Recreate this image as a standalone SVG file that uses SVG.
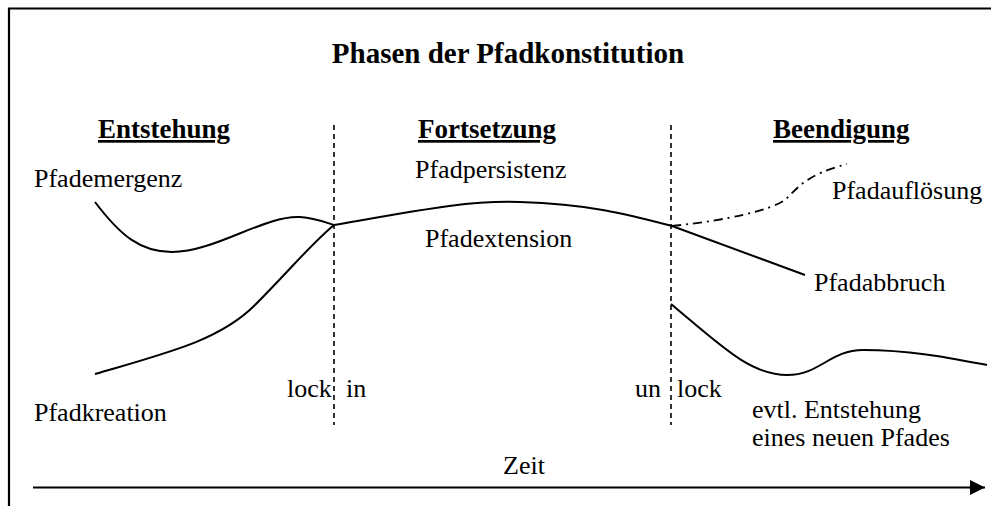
<svg xmlns="http://www.w3.org/2000/svg" width="991" height="506" viewBox="0 0 991 506">
<style>
text{font-family:"Liberation Serif","Times New Roman",serif;fill:#000}
.t{font-size:26px}
.h{font-size:27px;font-weight:bold;text-decoration:underline}
.ttl{font-size:29px;font-weight:bold}
.c{fill:none;stroke:#000;stroke-width:2}
.d{fill:none;stroke:#000;stroke-width:1.6;stroke-dasharray:5,4}
</style>
<defs>
<marker id="arr" markerWidth="16" markerHeight="16" refX="15" refY="7.5" orient="auto" markerUnits="userSpaceOnUse">
<path d="M0,0 L15,7.5 L0,15 Z" fill="#000"/>
</marker>
</defs>
<g id="frame"><path d="M9,506 V8.5 H991" fill="none" stroke="#000" stroke-width="2.2"/></g>
<g id="title"><text class="ttl" x="508" y="63" text-anchor="middle">Phasen der Pfadkonstitution</text></g>
<g id="headers">
<text class="h" x="98" y="138">Entstehung</text>
<text class="h" x="418" y="138">Fortsetzung</text>
<text class="h" x="773" y="138">Beendigung</text>
</g>
<g id="connectors">
<line class="d" x1="334" y1="125" x2="334" y2="425"/>
<line class="d" x1="671" y1="125" x2="671" y2="425"/>
<path class="c" d="M95,202 C120,235 140,252 172,252 C215,252 265,215 300,217 C315,218 325,222 334,225"/>
<path class="c" d="M95,374 C170,352 220,340 255,305 C290,270 310,245 334,225"/>
<path class="c" d="M334,225 C420,210 470,200 520,202 C590,204 630,215 672,226"/>
<path class="c" d="M672,226 L805,275"/>
<path fill="none" stroke="#000" stroke-width="1.8" stroke-dasharray="9,5,2,5" d="M672,226 C730,220 770,210 785,200 C798,188 805,175 847,164"/>
<path class="c" d="M671,304 C720,345 750,375 787,375 C820,375 830,350 863,350 C910,350 950,358 987,365"/>
<line x1="33" y1="487.5" x2="985" y2="487.5" stroke="#000" stroke-width="2.2" marker-end="url(#arr)"/>
</g>
<g id="labels">
<text class="t" x="34" y="187">Pfademergenz</text>
<text class="t" x="415" y="178">Pfadpersistenz</text>
<text class="t" x="832" y="199">Pfadauflösung</text>
<text class="t" x="425" y="247">Pfadextension</text>
<text class="t" x="814" y="291">Pfadabbruch</text>
<text class="t" x="287" y="397">lock</text>
<text class="t" x="346" y="397">in</text>
<text class="t" x="635" y="397">un</text>
<text class="t" x="677" y="397">lock</text>
<text class="t" x="34" y="421">Pfadkreation</text>
<text class="t" x="752" y="418">evtl. Entstehung</text>
<text class="t" x="752" y="446">eines neuen Pfades</text>
<text class="t" x="503" y="474">Zeit</text>
</g>
</svg>
